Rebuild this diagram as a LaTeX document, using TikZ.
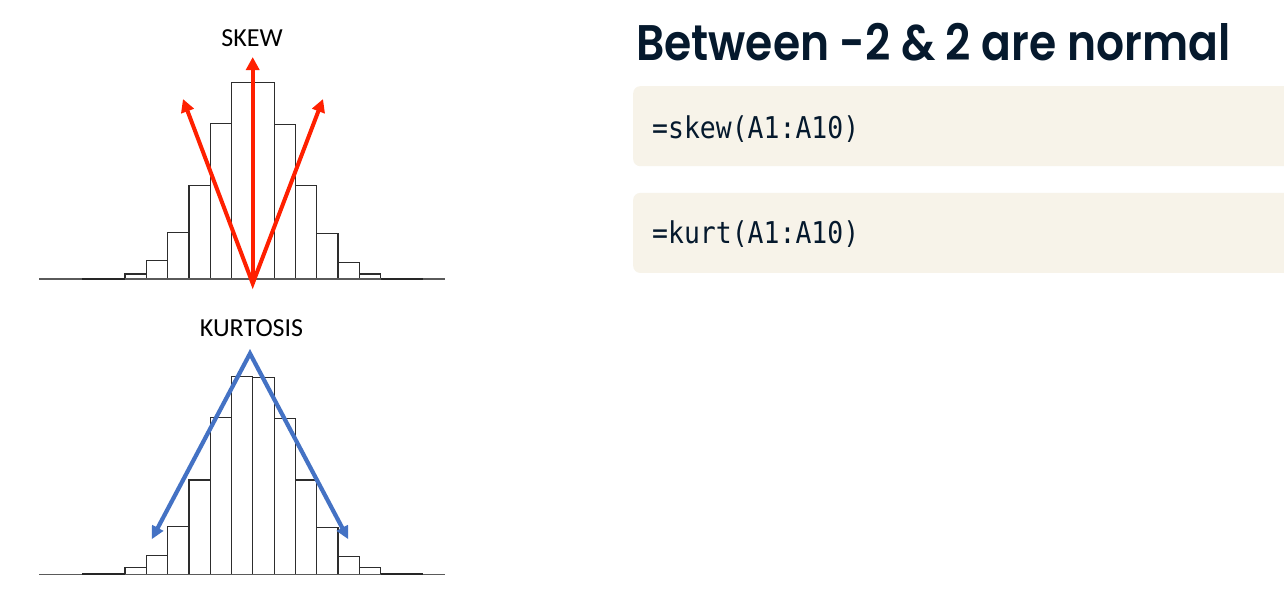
\documentclass[tikz,border=0pt]{standalone}
\usepackage{fontspec}
\usepackage{graphicx}
\usetikzlibrary{arrows.meta}
\newfontfamily\labelfont{Carlito}
\newfontfamily\titlefont{Poppins}[UprightFont=* SemiBold]
\newfontfamily\codefont{DejaVu Sans Mono}
\definecolor{navy}{RGB}{5,25,45}
\definecolor{codebg}{RGB}{247,243,233}
\definecolor{arrowred}{RGB}{255,32,0}
\definecolor{arrowblue}{RGB}{68,114,196}
\definecolor{barline}{RGB}{45,45,45}
\definecolor{axisline}{RGB}{90,90,90}
\begin{document}
\begin{tikzpicture}[x=1pt,y=-1pt,
  histbar/.style={draw=barline, fill=white, line width=1.2pt},
  axis/.style={draw=axisline, line width=1.1pt},
  tail/.style={draw=black!85, line width=1.8pt},
  lbl/.style={anchor=base, inner sep=0pt, font=\labelfont\fontsize{26}{30}\selectfont, text=black},
  redarrow/.style={draw=arrowred, line width=4pt, line join=miter, -{Triangle[width=13pt,length=13pt]}},
  redarrows/.style={draw=arrowred, line width=4pt, line join=miter, {Triangle[width=13pt,length=13pt]}-{Triangle[width=13pt,length=13pt]}},
  bluearrows/.style={draw=arrowblue, line width=4.2pt, line join=miter, {Triangle[width=12pt,length=13pt]}-{Triangle[width=12pt,length=13pt]}},
  codebox/.style={fill=codebg, rounded corners=7pt, minimum width=700pt, minimum height=80pt, anchor=north west, inner sep=0pt},
  codetext/.style={anchor=base west, inner sep=0pt, text=navy}]
\useasboundingbox (0,0) rectangle (1284,611);
\fill[white] (0,0) rectangle (1284,611);

% ---------- SKEW histogram ----------
\foreach \t [count=\i from 0] in {274,260.7,232.3,185.7,123.3,82.3,82.8,124.3,185.7,233.3,262.3,274}{
  \draw[histbar] ({125+21.3*\i},279) rectangle ({125+21.3*(\i+1)},\t);
}
\draw[axis] (39,279) -- (445,279);
\draw[tail] (82,278.6) -- (125,278.6);
\draw[tail] (381,278.6) -- (423,278.6);
\node[lbl] (skewlabel) at (252,46) {SKEW};
\coordinate (skewbase) at (252.7,283.5);
\coordinate (skewup) at (252.7,57);
\coordinate (skewleft) at (183,99);
\coordinate (skewright) at (323,99);
\draw[redarrows] (skewleft) -- (skewbase) -- (skewright);
\draw[redarrow] (skewbase) -- (skewup);

% ---------- KURTOSIS histogram ----------
\foreach \t [count=\i from 0] in {567.7,555.7,526.7,480,417.7,376.7,377.7,418.7,480,527.7,556.7,567.7}{
  \draw[histbar] ({125+21.3*\i},574.3) rectangle ({125+21.3*(\i+1)},\t);
}
\draw[axis] (39,574.3) -- (445,574.3);
\draw[tail] (82,573.9) -- (125,573.9);
\draw[tail] (381,573.9) -- (423,573.9);
\node[lbl] (kurtlabel) at (251.5,336.7) {KURTOSIS};
\coordinate (kurtapex) at (250,353.5);
\coordinate (kurtleft) at (151.7,539.3);
\coordinate (kurtright) at (348.3,539.3);
\draw[bluearrows] (kurtleft) -- (kurtapex) -- (kurtright);

% ---------- right side ----------
\node[anchor=base west, inner sep=0pt, text=navy] (title) at (636,60)
  {\resizebox{594pt}{\height}{\titlefont\fontsize{50}{56}\selectfont Between -2 \& 2 are normal}};
\begin{scope}
\clip (0,0) rectangle (1284,611);
\node[codebox] (skewbox) at (633,86) {};
\node[codebox] (kurtbox) at (633,192.7) {};
\end{scope}
\node[codetext] (skewcode) at (652,138)
  {\resizebox{207pt}{\height}{\codefont\fontsize{30}{34}\selectfont =skew(A1:A10)}};
\node[codetext] (kurtcode) at (652,243.3)
  {\resizebox{207pt}{\height}{\codefont\fontsize{30}{34}\selectfont =kurt(A1:A10)}};
\end{tikzpicture}
\end{document}
